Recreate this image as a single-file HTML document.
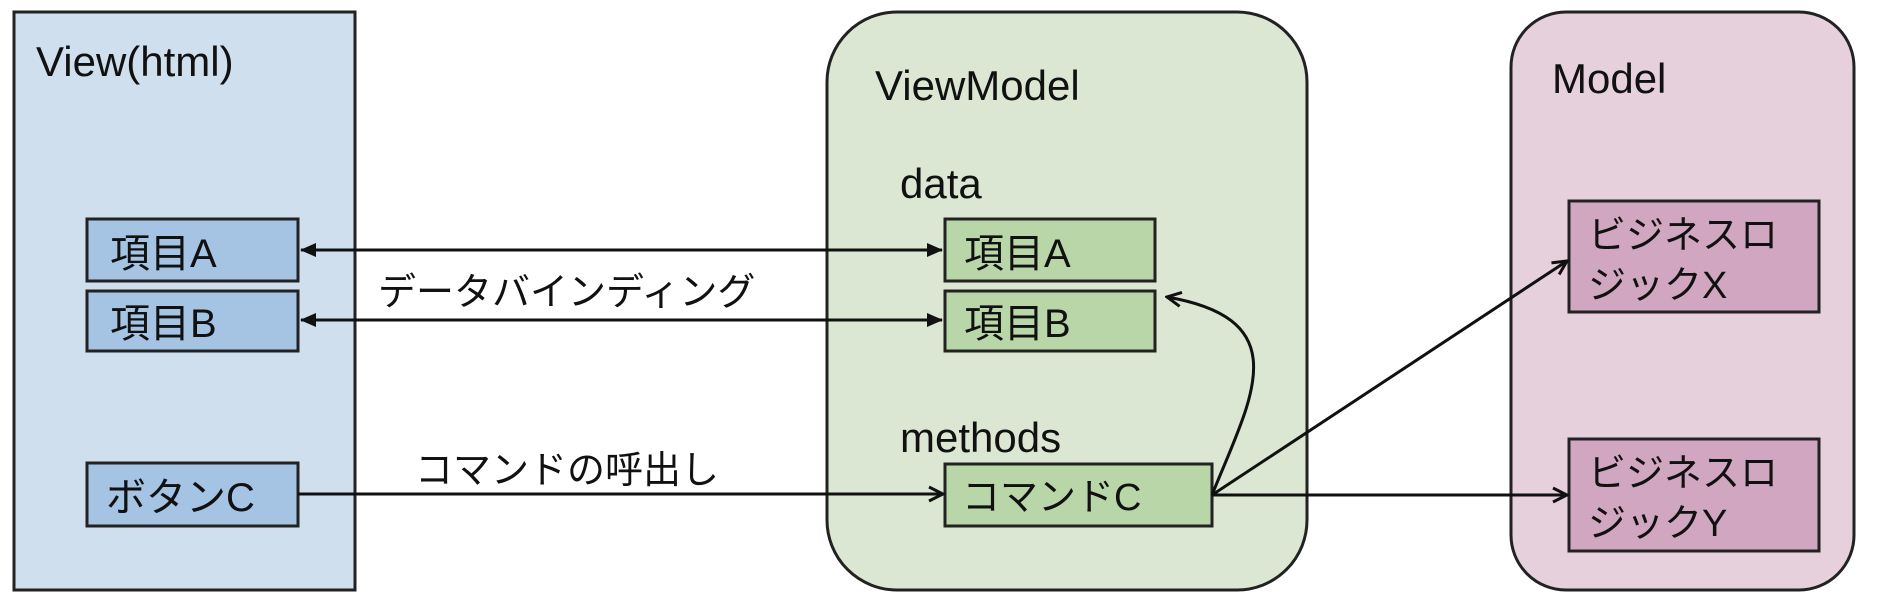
<!DOCTYPE html>
<html><head><meta charset="utf-8"><style>
body{margin:0;background:#fff;}
svg text{font-family:"Liberation Sans","Noto Sans CJK JP",sans-serif;fill:#111;}
</style></head><body>
<svg width="1883" height="605" viewBox="0 0 1883 605" xmlns="http://www.w3.org/2000/svg">
<defs>
<marker id="f" markerWidth="16" markerHeight="16" refX="15" refY="8" orient="auto-start-reverse" markerUnits="userSpaceOnUse" viewBox="0 0 16 16"><path d="M0,1 L16,8 L0,15 z" fill="#111"/></marker>
<marker id="o" markerWidth="18" markerHeight="18" refX="16" refY="9" orient="auto" markerUnits="userSpaceOnUse" viewBox="0 0 18 18"><path d="M2,2 L16,9 L2,16" fill="none" stroke="#111" stroke-width="3"/></marker>
</defs>
<g stroke="#222" stroke-width="3">
<rect x="14" y="12" width="341" height="578" fill="#cfdfee"/>
<rect x="827" y="12" width="480" height="578" rx="70" fill="#dbe7d3"/>
<rect x="1511" y="12" width="343" height="578" rx="55" fill="#e5d0dc"/>
<rect x="87" y="219" width="211" height="62" fill="#a5c3e3"/>
<rect x="87" y="291" width="211" height="60" fill="#a5c3e3"/>
<rect x="87" y="463" width="211" height="63" fill="#a5c3e3"/>
<rect x="945" y="219" width="210" height="62" fill="#b9d6a8"/>
<rect x="945" y="291" width="210" height="60" fill="#b9d6a8"/>
<rect x="945" y="464" width="267" height="62" fill="#b9d6a8"/>
<rect x="1569" y="201" width="250" height="111" fill="#d1a6c0"/>
<rect x="1569" y="439" width="250" height="112" fill="#d1a6c0"/>
</g>
<g stroke="#111" stroke-width="3" fill="none">
<line x1="301" y1="250" x2="942" y2="250" marker-start="url(#f)" marker-end="url(#f)"/>
<line x1="301" y1="320" x2="942" y2="320" marker-start="url(#f)" marker-end="url(#f)"/>
<line x1="298" y1="494" x2="943" y2="494" marker-end="url(#o)"/>
<line x1="1212" y1="495" x2="1567" y2="495" marker-end="url(#o)"/>
<line x1="1212" y1="495" x2="1567" y2="261" marker-end="url(#o)"/>
<path d="M1212,495 C1250,400 1300,320 1167,297" marker-end="url(#o)"/>
</g>
<g font-size="42">
<text x="36" y="76">View(html)</text>
<text x="875" y="100">ViewModel</text>
<text x="1552" y="93">Model</text>
<text x="900" y="198">data</text>
<text x="900" y="452">methods</text>
</g>
<g font-size="40">
<text x="110" y="267">項目A</text>
<text x="110" y="337">項目B</text>
<text x="106" y="511">ボタンC</text>
<text x="964" y="267">項目A</text>
<text x="964" y="337">項目B</text>
</g>
<g font-size="38">
<text x="962" y="510">コマンドC</text>
<text x="1588" y="248">ビジネスロ</text>
<text x="1588" y="298">ジックX</text>
<text x="1588" y="486">ビジネスロ</text>
<text x="1588" y="536">ジックY</text>
<text x="378" y="305">データバインディング</text>
<text x="415" y="483">コマンドの呼出し</text>
</g>
</svg>
</body></html>
